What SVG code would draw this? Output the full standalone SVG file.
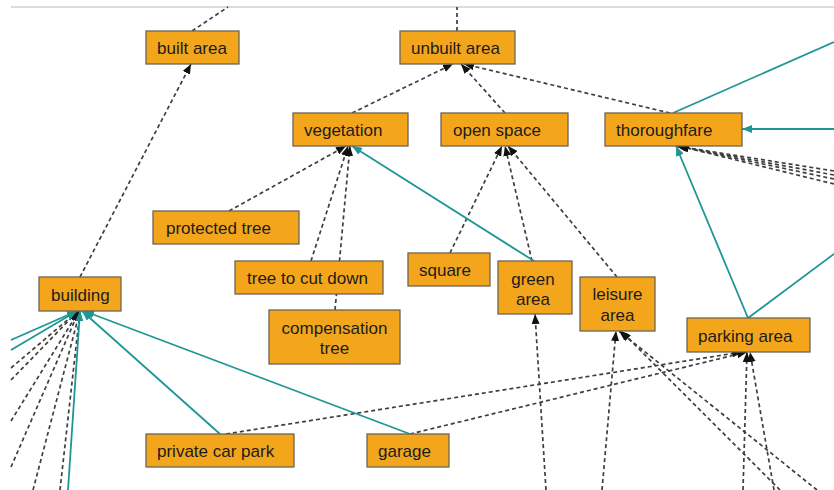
<svg xmlns="http://www.w3.org/2000/svg" width="834" height="490" viewBox="0 0 834 490">
  <style>
    .box { fill: #F3A61C; stroke: #6e6455; stroke-width: 1.3; }
    .lbl { font-family: "Liberation Sans", Arial, sans-serif; font-size: 17px; fill: #1c1c1c; }
    .mid { text-anchor: middle; }
    .dep { fill: none; stroke: #3f3f3f; stroke-width: 1.7; stroke-dasharray: 4 3; }
    .rel { fill: none; stroke: #1f9696; stroke-width: 1.8; }
  </style>
  <defs>
    <marker id="arrowDark" markerUnits="userSpaceOnUse" markerWidth="10" markerHeight="8" refX="10" refY="4" orient="auto">
      <path d="M0,0 L10,4 L0,8 z" fill="#111"/>
    </marker>
    <marker id="arrowTeal" markerUnits="userSpaceOnUse" markerWidth="10" markerHeight="8" refX="10" refY="4" orient="auto">
      <path d="M0,0 L10,4 L0,8 z" fill="#1f9696"/>
    </marker>
  </defs>

  <rect width="834" height="490" fill="#ffffff"/>
  <line x1="11" y1="7" x2="834" y2="7" stroke="#cfcfcf" stroke-width="1.5"/>

  <g id="connectors">
    <!-- dashed dependencies -->
    <path class="dep" d="M192,31 L228,7"/>
    <path class="dep" d="M457,31 L457,7"/>
    <path class="dep" d="M80,277 L191,64" marker-end="url(#arrowDark)"/>
    <path class="dep" d="M352,113 L453,64" marker-end="url(#arrowDark)"/>
    <path class="dep" d="M505,113 L461,64" marker-end="url(#arrowDark)"/>
    <path class="dep" d="M670,113 L464,64" marker-end="url(#arrowDark)"/>
    <path class="dep" d="M229,211 L346,146" marker-end="url(#arrowDark)"/>
    <path class="dep" d="M311,261 L348,146" marker-end="url(#arrowDark)"/>
    <path class="dep" d="M335,310 L350,146" marker-end="url(#arrowDark)"/>
    <path class="dep" d="M450,253 L502,146" marker-end="url(#arrowDark)"/>
    <path class="dep" d="M532,261 L505,146" marker-end="url(#arrowDark)"/>
    <path class="dep" d="M617,277 L508,146" marker-end="url(#arrowDark)"/>
    <path class="dep" d="M546,490 L535,314" marker-end="url(#arrowDark)"/>
    <path class="dep" d="M602,490 L616,331" marker-end="url(#arrowDark)"/>
    <path class="dep" d="M817,490 L619,331" marker-end="url(#arrowDark)"/>
    <path class="dep" d="M780,490 L621,331" marker-end="url(#arrowDark)"/>
    <path class="dep" d="M226,434 L742,352" marker-end="url(#arrowDark)"/>
    <path class="dep" d="M410,434 L747,352" marker-end="url(#arrowDark)"/>
    <path class="dep" d="M743,490 L747,352" marker-end="url(#arrowDark)"/>
    <path class="dep" d="M774,490 L750,352" marker-end="url(#arrowDark)"/>
    <path class="dep" d="M834,171 L676,146" marker-end="url(#arrowDark)"/>
    <path class="dep" d="M834,175 L677,146" marker-end="url(#arrowDark)"/>
    <path class="dep" d="M834,179 L678,146" marker-end="url(#arrowDark)"/>
    <path class="dep" d="M834,184 L679,146" marker-end="url(#arrowDark)"/>
    <path class="dep" d="M11,368 L78,311" marker-end="url(#arrowDark)"/>
    <path class="dep" d="M11,380 L78,311" marker-end="url(#arrowDark)"/>
    <path class="dep" d="M11,421 L79,311" marker-end="url(#arrowDark)"/>
    <path class="dep" d="M11,467 L79,311" marker-end="url(#arrowDark)"/>
    <path class="dep" d="M33,490 L80,311" marker-end="url(#arrowDark)"/>
    <path class="dep" d="M60,490 L80,311" marker-end="url(#arrowDark)"/>

    <!-- solid relations -->
    <path class="rel" d="M534,261 L352,146" marker-end="url(#arrowTeal)"/>
    <path class="rel" d="M748,318 L676,146" marker-end="url(#arrowTeal)"/>
    <path class="rel" d="M834,129 L742,129" marker-end="url(#arrowTeal)"/>
    <path class="rel" d="M673,113 L834,42"/>
    <path class="rel" d="M748,318 L834,254"/>
    <path class="rel" d="M220,434 L82,311" marker-end="url(#arrowTeal)"/>
    <path class="rel" d="M410,434 L84,311" marker-end="url(#arrowTeal)"/>
    <path class="rel" d="M11,340 L77,311" marker-end="url(#arrowTeal)"/>
    <path class="rel" d="M11,350 L77,311" marker-end="url(#arrowTeal)"/>
    <path class="rel" d="M68,490 L80,311" marker-end="url(#arrowTeal)"/>
  </g>

  <g id="built-area">
    <rect class="box" x="146" y="31" width="93" height="33"/>
    <text class="lbl" x="157" y="54">built area</text>
  </g>
  <g id="unbuilt-area">
    <rect class="box" x="400" y="31" width="115" height="33"/>
    <text class="lbl" x="411" y="54">unbuilt area</text>
  </g>
  <g id="vegetation">
    <rect class="box" x="293" y="113" width="115" height="33"/>
    <text class="lbl" x="304" y="136">vegetation</text>
  </g>
  <g id="open-space">
    <rect class="box" x="441" y="113" width="127" height="33"/>
    <text class="lbl" x="453" y="136">open space</text>
  </g>
  <g id="thoroughfare">
    <rect class="box" x="605" y="113" width="137" height="33"/>
    <text class="lbl" x="616" y="136">thoroughfare</text>
  </g>
  <g id="protected-tree">
    <rect class="box" x="153" y="211" width="146" height="33"/>
    <text class="lbl" x="166" y="234">protected tree</text>
  </g>
  <g id="tree-to-cut-down">
    <rect class="box" x="235" y="261" width="148" height="33"/>
    <text class="lbl" x="247" y="284">tree to cut down</text>
  </g>
  <g id="compensation-tree">
    <rect class="box" x="269" y="310" width="131" height="54"/>
    <text class="lbl mid" x="334.5" y="334">compensation</text>
    <text class="lbl mid" x="334.5" y="354">tree</text>
  </g>
  <g id="building">
    <rect class="box" x="39" y="277" width="82" height="34"/>
    <text class="lbl" x="51" y="300.5">building</text>
  </g>
  <g id="square">
    <rect class="box" x="408" y="253" width="82" height="33"/>
    <text class="lbl" x="419" y="276">square</text>
  </g>
  <g id="green-area">
    <rect class="box" x="498" y="261" width="74" height="53"/>
    <text class="lbl mid" x="533" y="285">green</text>
    <text class="lbl mid" x="533" y="305">area</text>
  </g>
  <g id="leisure-area">
    <rect class="box" x="580" y="277" width="75" height="54"/>
    <text class="lbl mid" x="617.5" y="300">leisure</text>
    <text class="lbl mid" x="617.5" y="321">area</text>
  </g>
  <g id="parking-area">
    <rect class="box" x="687" y="318" width="123" height="34"/>
    <text class="lbl" x="698" y="341.5">parking area</text>
  </g>
  <g id="private-car-park">
    <rect class="box" x="146" y="434" width="148" height="33"/>
    <text class="lbl" x="157" y="457">private car park</text>
  </g>
  <g id="garage">
    <rect class="box" x="367" y="434" width="82" height="33"/>
    <text class="lbl" x="378" y="457">garage</text>
  </g>
</svg>
